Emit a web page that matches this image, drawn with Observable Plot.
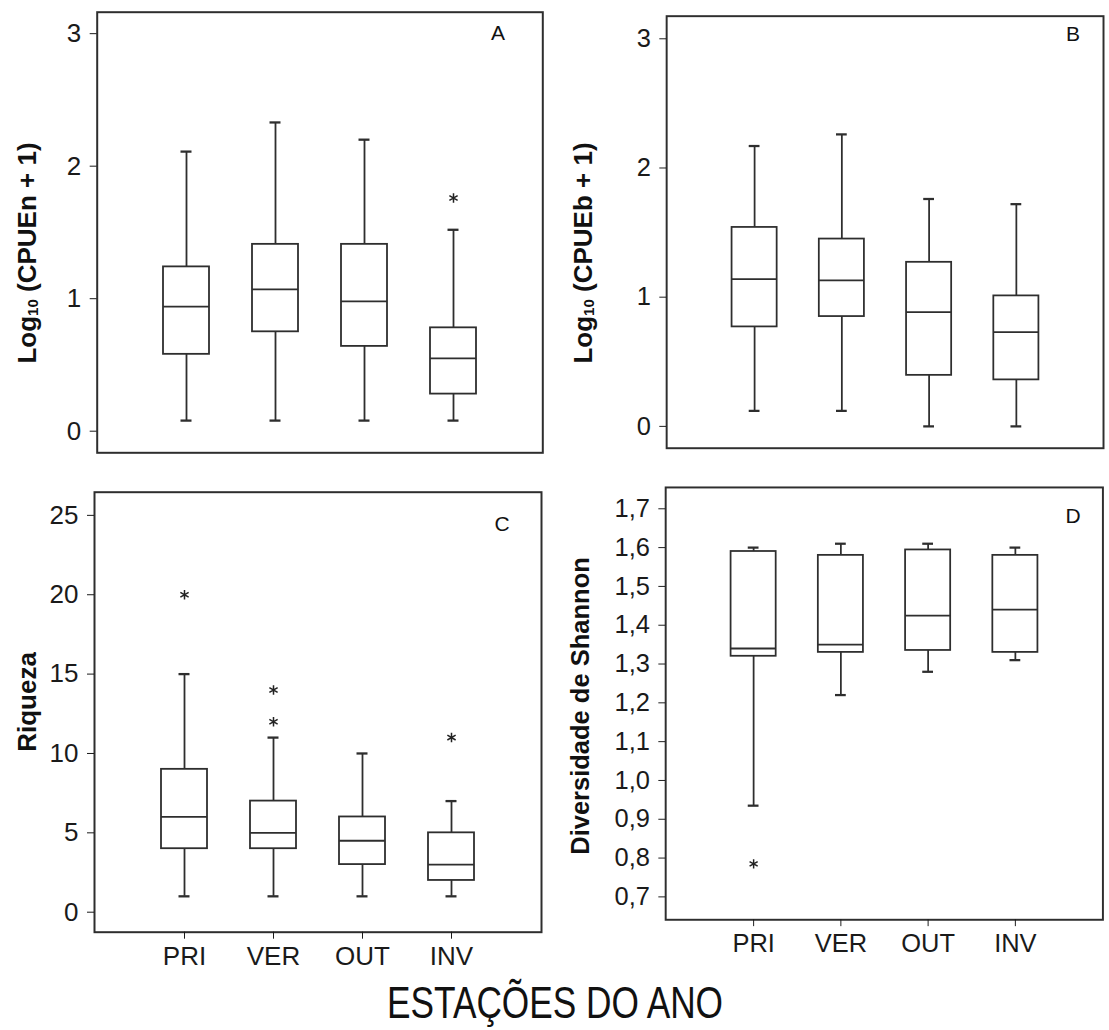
<!DOCTYPE html>
<html><head><meta charset="utf-8">
<script src="https://cdn.jsdelivr.net/npm/d3@7"></script>
<script src="https://cdn.jsdelivr.net/npm/@observablehq/plot@0.6"></script>
<style>
html,body{margin:0;padding:0;background:#fff;overflow:hidden}
#fig{position:relative;width:1109px;height:1030px;overflow:hidden;background:#fff;font-family:"Liberation Sans",Arial,sans-serif}
.panel{position:absolute}
.panel svg text{font-size:26px}
#overlay{position:absolute;left:0;top:0;pointer-events:none}
</style></head><body><div id="fig"></div>
<script>
const seasons = ["PRI", "VER", "OUT", "INV"];

// Panel A: Log10 (CPUEn + 1)
const aLow = [0.08, 0.08, 0.08, 0.08];
const aQ1 = [0.58, 0.75, 0.64, 0.28];
const aMed = [0.94, 1.07, 0.98, 0.55];
const aQ3 = [1.24, 1.41, 1.41, 0.78];
const aHigh = [2.11, 2.33, 2.20, 1.52];
const aOutSeason = ["INV"];
const aOutValue = [1.76];

// Panel B: Log10 (CPUEb + 1)
const bLow = [0.12, 0.12, 0.0, 0.0];
const bQ1 = [0.77, 0.85, 0.395, 0.36];
const bMed = [1.14, 1.13, 0.885, 0.73];
const bQ3 = [1.54, 1.45, 1.27, 1.01];
const bHigh = [2.17, 2.26, 1.76, 1.72];
const bOutSeason = [];
const bOutValue = [];

// Panel C: Riqueza
const cLow = [1, 1, 1, 1];
const cQ1 = [4, 4, 3, 2];
const cMed = [6, 5, 4.5, 3];
const cQ3 = [9, 7, 6, 5];
const cHigh = [15, 11, 10, 7];
const cOutSeason = ["PRI", "VER", "VER", "INV"];
const cOutValue = [20, 14, 12, 11];

// Panel D: Diversidade de Shannon
const dLow = [0.935, 1.22, 1.28, 1.31];
const dQ1 = [1.32, 1.33, 1.335, 1.33];
const dMed = [1.34, 1.35, 1.425, 1.44];
const dQ3 = [1.59, 1.58, 1.594, 1.58];
const dHigh = [1.60, 1.61, 1.61, 1.60];
const dOutSeason = ["PRI"];
const dOutValue = [0.785];

// Tick values
const ticksAB = [0, 1, 2, 3];
const ticksC = [0, 5, 10, 15, 20, 25];
const ticksD = [0.7, 0.8, 0.9, 1.0, 1.1, 1.2, 1.3, 1.4, 1.5, 1.6, 1.7];

function rowsOf(low, q1, med, q3, high) {
  return seasons.map((s, i) => ({season: s, low: low[i], q1: q1[i], med: med[i], q3: q3[i], high: high[i]}));
}
function outsOf(ss, vs) { return ss.map((s, i) => ({season: s, value: vs[i]})); }

const ink = "#2e2e2e";
const fig = document.getElementById("fig");

function panel(rows, outliers, cfg) {
  const marks = [
    Plot.frame({stroke: ink, strokeWidth: 2}),
    Plot.axisY({ticks: cfg.yTicks, tickSize: 7, tickPadding: 9, tickFormat: cfg.fmt, label: null, fontSize: 26}),
    Plot.ruleX(rows, {x: "season", y1: "low", y2: "high", stroke: ink, strokeWidth: 1.8}),
    Plot.barY(rows, {x: "season", y1: "q1", y2: "q3", fill: "white", stroke: ink, strokeWidth: 1.8}),
    Plot.tickY(rows, {x: "season", y: "med", stroke: ink, strokeWidth: 1.8}),
    Plot.tickY(rows, {x: "season", y: "low", stroke: ink, strokeWidth: 2.3, inset: 17.5}),
    Plot.tickY(rows, {x: "season", y: "high", stroke: ink, strokeWidth: 2.3, inset: 17.5}),
    Plot.dot(outliers, {x: "season", y: "value", symbol: "asterisk", r: 4.5, stroke: "#222", strokeWidth: 1.5})
  ];
  if (cfg.xAxis) marks.push(Plot.axisX({tickSize: 7, tickPadding: 7, label: null, fontSize: 26}));
  const xOpts = {type: "band", domain: seasons, paddingInner: 0.485, paddingOuter: 0.7425};
  if (!cfg.xAxis) xOpts.axis = null;
  const p = Plot.plot({
    width: cfg.w, height: cfg.h,
    marginLeft: cfg.m[0], marginRight: cfg.m[1], marginTop: cfg.m[2], marginBottom: cfg.m[3],
    style: {fontFamily: '"Liberation Sans", Arial, sans-serif', fontSize: "26px", color: "#1a1a1a", background: "transparent", overflow: "visible"},
    x: xOpts,
    y: {domain: cfg.yDomain},
    marks
  });
  const wrap = document.createElement("div");
  wrap.className = "panel";
  wrap.style.left = cfg.left + "px";
  wrap.style.top = cfg.top + "px";
  wrap.appendChild(p);
  fig.appendChild(wrap);
}

const fmtComma = d => d.toFixed(1).replace(".", ",");

panel(rowsOf(aLow, aQ1, aMed, aQ3, aHigh), outsOf(aOutSeason, aOutValue), {
  left: 0, top: 0, w: 560, h: 470, m: [96.7, 17.7, 11.7, 17.7],
  yDomain: [-0.163, 3.162], yTicks: ticksAB, fmt: d => String(d), xAxis: false
});
panel(rowsOf(bLow, bQ1, bMed, bQ3, bHigh), outsOf(bOutSeason, bOutValue), {
  left: 560, top: 0, w: 560, h: 470, m: [108.3, 6.1, 16, 13.3],
  yDomain: [-0.169, 3.175], yTicks: ticksAB, fmt: d => String(d), xAxis: false
});
panel(rowsOf(cLow, cQ1, cMed, cQ3, cHigh), outsOf(cOutSeason, cOutValue), {
  left: 0, top: 470, w: 560, h: 510, m: [94, 19, 21.7, 48.3],
  yDomain: [-1.26, 26.46], yTicks: ticksC, fmt: d => String(d), xAxis: true
});
panel(rowsOf(dLow, dQ1, dMed, dQ3, dHigh), outsOf(dOutSeason, dOutValue), {
  left: 560, top: 470, w: 560, h: 510, m: [107.3, 6.7, 17.3, 51.7],
  yDomain: [0.641, 1.755], yTicks: ticksD, fmt: fmtComma, xAxis: true
});

// Text overlay: axis titles and panel letters
const svg = d3.select(fig).append("svg").attr("id", "overlay")
  .attr("width", 1109).attr("height", 1030)
  .style("font-family", '"Liberation Sans", Arial, sans-serif');

function yTitle(x, y, size, build) {
  const t = svg.append("text")
    .attr("transform", `translate(${x},${y}) rotate(-90)`)
    .attr("text-anchor", "middle")
    .attr("dominant-baseline", "central")
    .attr("font-size", size).attr("font-weight", "bold").attr("fill", "#111");
  build(t);
}
function logTitle(t, v) {
  t.append("tspan").text("Log");
  t.append("tspan").attr("font-size", 15).attr("dy", 5).text("10");
  t.append("tspan").attr("dy", -5).text(` (CPUE${v} + 1)`);
}
yTitle(27, 253, 26, t => logTitle(t, "n"));
yTitle(583, 253, 26, t => logTitle(t, "b"));
yTitle(27, 702, 26, t => t.text("Riqueza"));
yTitle(580, 706, 25.5, t => t.text("Diversidade de Shannon"));

const letters = [["A", 498, 32], ["B", 1073, 33], ["C", 502, 523], ["D", 1073, 515]];
letters.forEach(([s, x, y]) => {
  svg.append("text").attr("x", x).attr("y", y).attr("text-anchor", "middle")
    .attr("dominant-baseline", "central").attr("font-size", 21).attr("fill", "#111").text(s);
});

svg.append("text").attr("x", 555).attr("y", 1018).attr("text-anchor", "middle")
  .attr("font-size", 44).attr("fill", "#111")
  .attr("textLength", 336).attr("lengthAdjust", "spacingAndGlyphs")
  .text("ESTAÇÕES DO ANO");
</script></body></html>
